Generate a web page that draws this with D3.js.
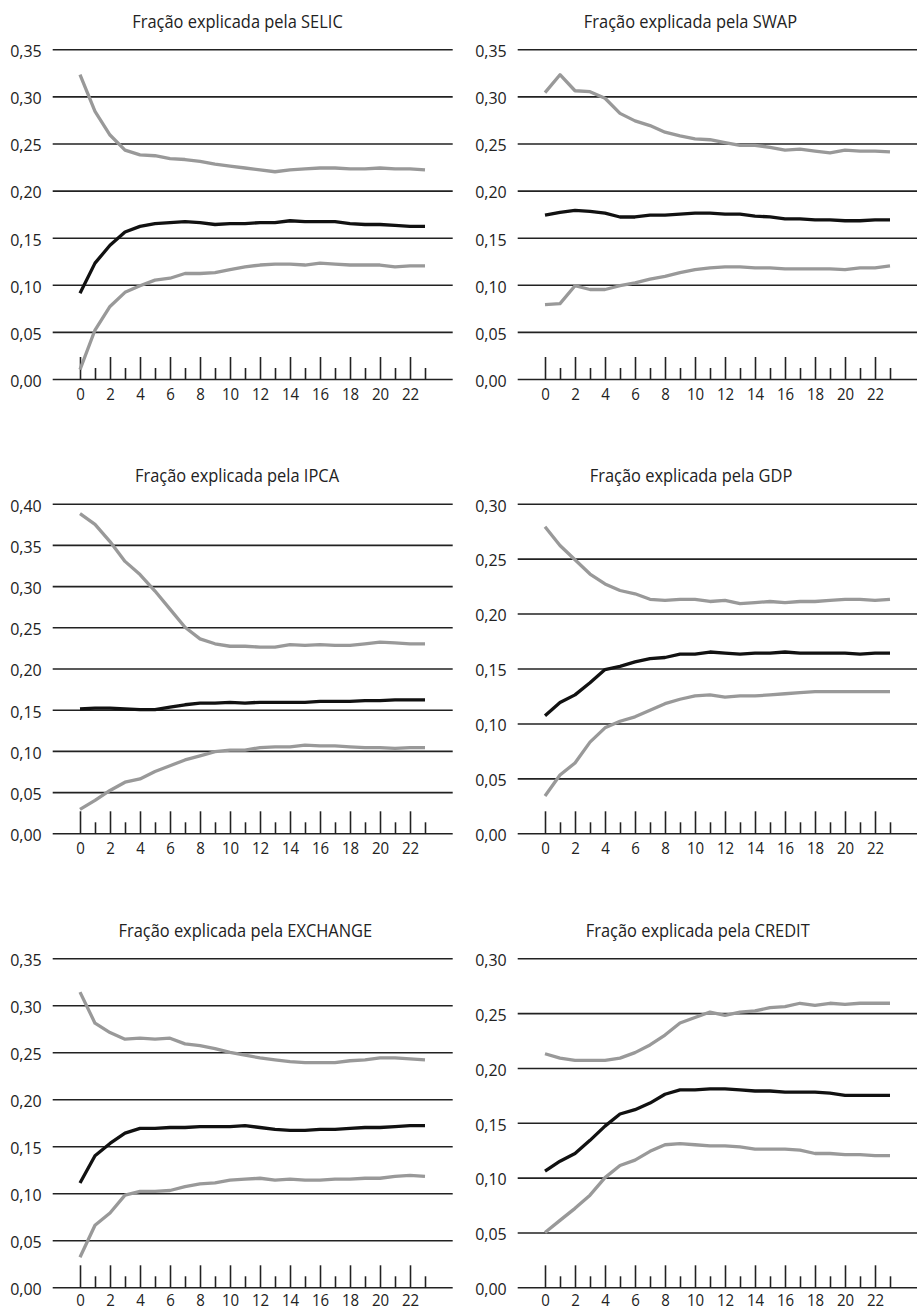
<!DOCTYPE html>
<html>
<head>
<meta charset="utf-8">
<script src="https://cdn.jsdelivr.net/npm/d3@7"></script>
<style>
  html, body { margin: 0; padding: 0; background: #fff; }
  svg { display: block; }
  text { font-family: "Open Sans", "Noto Sans", sans-serif; fill: #222; }
</style>
</head>
<body>
<svg id="chart" width="917" height="1311"></svg>
<script>
// ---------- DATA ----------
const horizons = [0,1,2,3,4,5,6,7,8,9,10,11,12,13,14,15,16,17,18,19,20,21,22,23];
const xTickLabels = [0,2,4,6,8,10,12,14,16,18,20,22];

const panelTitles = [
  "Fração explicada pela SELIC",
  "Fração explicada pela SWAP",
  "Fração explicada pela IPCA",
  "Fração explicada pela GDP",
  "Fração explicada pela EXCHANGE",
  "Fração explicada pela CREDIT"
];
const yMaxValues = [0.35, 0.35, 0.40, 0.30, 0.35, 0.30];

const selicUpper = [0.323,0.284,0.259,0.243,0.238,0.237,0.234,0.233,0.231,0.228,0.226,0.224,0.222,0.220,0.222,0.223,0.224,0.224,0.223,0.223,0.224,0.223,0.223,0.222];
const selicMid   = [0.091,0.123,0.142,0.156,0.162,0.165,0.166,0.167,0.166,0.164,0.165,0.165,0.166,0.166,0.168,0.167,0.167,0.167,0.165,0.164,0.164,0.163,0.162,0.162];
const selicLower = [0.010,0.052,0.077,0.092,0.099,0.105,0.107,0.112,0.112,0.113,0.116,0.119,0.121,0.122,0.122,0.121,0.123,0.122,0.121,0.121,0.121,0.119,0.120,0.120];

const swapUpper = [0.304,0.323,0.306,0.305,0.298,0.282,0.274,0.269,0.262,0.258,0.255,0.254,0.251,0.248,0.248,0.246,0.243,0.244,0.242,0.240,0.243,0.242,0.242,0.241];
const swapMid   = [0.174,0.177,0.179,0.178,0.176,0.172,0.172,0.174,0.174,0.175,0.176,0.176,0.175,0.175,0.173,0.172,0.170,0.170,0.169,0.169,0.168,0.168,0.169,0.169];
const swapLower = [0.079,0.080,0.099,0.095,0.095,0.099,0.102,0.106,0.109,0.113,0.116,0.118,0.119,0.119,0.118,0.118,0.117,0.117,0.117,0.117,0.116,0.118,0.118,0.120];

const ipcaUpper = [0.388,0.375,0.354,0.330,0.314,0.294,0.272,0.250,0.236,0.230,0.227,0.227,0.226,0.226,0.229,0.228,0.229,0.228,0.228,0.230,0.232,0.231,0.230,0.230];
const ipcaMid   = [0.151,0.152,0.152,0.151,0.150,0.150,0.153,0.156,0.158,0.158,0.159,0.158,0.159,0.159,0.159,0.159,0.160,0.160,0.160,0.161,0.161,0.162,0.162,0.162];
const ipcaLower = [0.029,0.040,0.052,0.062,0.066,0.075,0.082,0.089,0.094,0.099,0.101,0.101,0.104,0.105,0.105,0.107,0.106,0.106,0.105,0.104,0.104,0.103,0.104,0.104];

const gdpUpper = [0.279,0.262,0.249,0.236,0.227,0.221,0.218,0.213,0.212,0.213,0.213,0.211,0.212,0.209,0.210,0.211,0.210,0.211,0.211,0.212,0.213,0.213,0.212,0.213];
const gdpMid   = [0.107,0.119,0.126,0.137,0.149,0.152,0.156,0.159,0.160,0.163,0.163,0.165,0.164,0.163,0.164,0.164,0.165,0.164,0.164,0.164,0.164,0.163,0.164,0.164];
const gdpLower = [0.034,0.053,0.064,0.083,0.096,0.102,0.106,0.112,0.118,0.122,0.125,0.126,0.124,0.125,0.125,0.126,0.127,0.128,0.129,0.129,0.129,0.129,0.129,0.129];

const exchangeUpper = [0.314,0.281,0.271,0.264,0.265,0.264,0.265,0.259,0.257,0.254,0.250,0.247,0.244,0.242,0.240,0.239,0.239,0.239,0.241,0.242,0.244,0.244,0.243,0.242];
const exchangeMid   = [0.111,0.140,0.153,0.164,0.169,0.169,0.170,0.170,0.171,0.171,0.171,0.172,0.170,0.168,0.167,0.167,0.168,0.168,0.169,0.170,0.170,0.171,0.172,0.172];
const exchangeLower = [0.032,0.066,0.079,0.098,0.102,0.102,0.103,0.107,0.110,0.111,0.114,0.115,0.116,0.114,0.115,0.114,0.114,0.115,0.115,0.116,0.116,0.118,0.119,0.118];

const creditUpper = [0.213,0.209,0.207,0.207,0.207,0.209,0.214,0.221,0.230,0.241,0.246,0.251,0.248,0.251,0.252,0.255,0.256,0.259,0.257,0.259,0.258,0.259,0.259,0.259];
const creditMid   = [0.106,0.115,0.122,0.134,0.147,0.158,0.162,0.168,0.176,0.180,0.180,0.181,0.181,0.180,0.179,0.179,0.178,0.178,0.178,0.177,0.175,0.175,0.175,0.175];
const creditLower = [0.050,0.061,0.072,0.084,0.100,0.111,0.116,0.124,0.130,0.131,0.130,0.129,0.129,0.128,0.126,0.126,0.126,0.125,0.122,0.122,0.121,0.121,0.120,0.120];

const panelSeries = [
  [selicUpper, selicLower, selicMid],
  [swapUpper, swapLower, swapMid],
  [ipcaUpper, ipcaLower, ipcaMid],
  [gdpUpper, gdpLower, gdpMid],
  [exchangeUpper, exchangeLower, exchangeMid],
  [creditUpper, creditLower, creditMid]
];

// ---------- LAYOUT ----------
const columns = [
  { gridX0: 52.7, gridX1: 452.7, plotX0: 80 },
  { gridX0: 517.7, gridX1: 917, plotX0: 545 }
];
const rows = [
  { top: 49.3, bottom: 379, titleBase: 28, xPad: 10 },
  { top: 503.7, bottom: 833.3, titleBase: 482, xPad: 10 },
  { top: 958.3, bottom: 1287.3, titleBase: 937, xPad: 7.5 }
];
const titleCenters = [237.5, 690.5, 237, 691, 245.3, 697.7];
const lineStyles = [
  { color: "#999999", width: 3.3 },
  { color: "#999999", width: 3.3 },
  { color: "#111111", width: 3.3 }
];
const TITLE_SIZE = 19, TITLE_SX = 0.865;
const LABEL_SIZE = 17, LABEL_SX = 0.94;

const fmt = d3.formatLocale({ decimal: ",", thousands: ".", grouping: [3], currency: ["", ""] }).format(".2f");
const svg = d3.select("#chart");

panelTitles.forEach((title, p) => {
  const col = columns[p % 2];
  const row = rows[Math.floor(p / 2)];
  const g = svg.append("g");

  const x = d3.scaleLinear().domain([0, 23]).range([col.plotX0, col.plotX0 + 345]);
  const y = d3.scaleLinear().domain([0, yMaxValues[p]]).range([row.bottom, row.top]);
  const yTicks = d3.range(0, yMaxValues[p] + 0.0001, 0.05);

  // title
  g.append("text")
    .attr("transform", `translate(${titleCenters[p]},${row.titleBase}) scale(${TITLE_SX},1)`)
    .attr("text-anchor", "middle")
    .style("font-size", TITLE_SIZE + "px")
    .attr("fill", "#222")
    .text(title);

  // y axis with gridlines
  const yAxis = d3.axisLeft(y)
    .tickValues(yTicks)
    .tickSize(-(col.gridX1 - col.gridX0))
    .tickPadding(11)
    .tickFormat(fmt);
  const ya = g.append("g").attr("transform", `translate(${col.gridX0},0)`).call(yAxis);
  ya.select(".domain").remove();
  ya.selectAll(".tick line").attr("stroke", "#222").attr("stroke-width", 1.6);
  ya.selectAll(".tick text")
    .attr("x", -11 / LABEL_SX)
    .attr("dy", "0.43em")
    .attr("transform", `scale(${LABEL_SX},1)`)
    .style("font-size", LABEL_SIZE + "px")
    .style("font-family", "'Open Sans', sans-serif")
    .attr("fill", "#222");

  // x axis: tick marks pointing up
  const xAxis = d3.axisBottom(x)
    .tickValues(horizons)
    .tickSizeInner(-22)
    .tickSizeOuter(0)
    .tickPadding(row.xPad)
    .tickFormat(d => xTickLabels.includes(d) ? String(d) : "");
  const xa = g.append("g").attr("transform", `translate(0,${row.bottom})`).call(xAxis);
  xa.select(".domain").remove();
  xa.selectAll(".tick line")
    .attr("stroke", "#222")
    .attr("stroke-width", 1.6)
    .attr("y2", d => xTickLabels.includes(d) ? -22 : -11);
  xa.selectAll(".tick text")
    .attr("transform", `scale(${LABEL_SX},1)`)
    .attr("dy", "0.68em")
    .style("font-size", "16px")
    .style("font-family", "'Open Sans', sans-serif")
    .attr("fill", "#222");

  // series lines
  const line = d3.line().x((d, i) => x(horizons[i])).y(d => y(d));
  panelSeries[p].forEach((s, k) => {
    g.append("path")
      .datum(s)
      .attr("d", line)
      .attr("fill", "none")
      .attr("stroke", lineStyles[k].color)
      .attr("stroke-width", lineStyles[k].width)
      .attr("stroke-linejoin", "round");
  });
});
</script>
</body>
</html>
